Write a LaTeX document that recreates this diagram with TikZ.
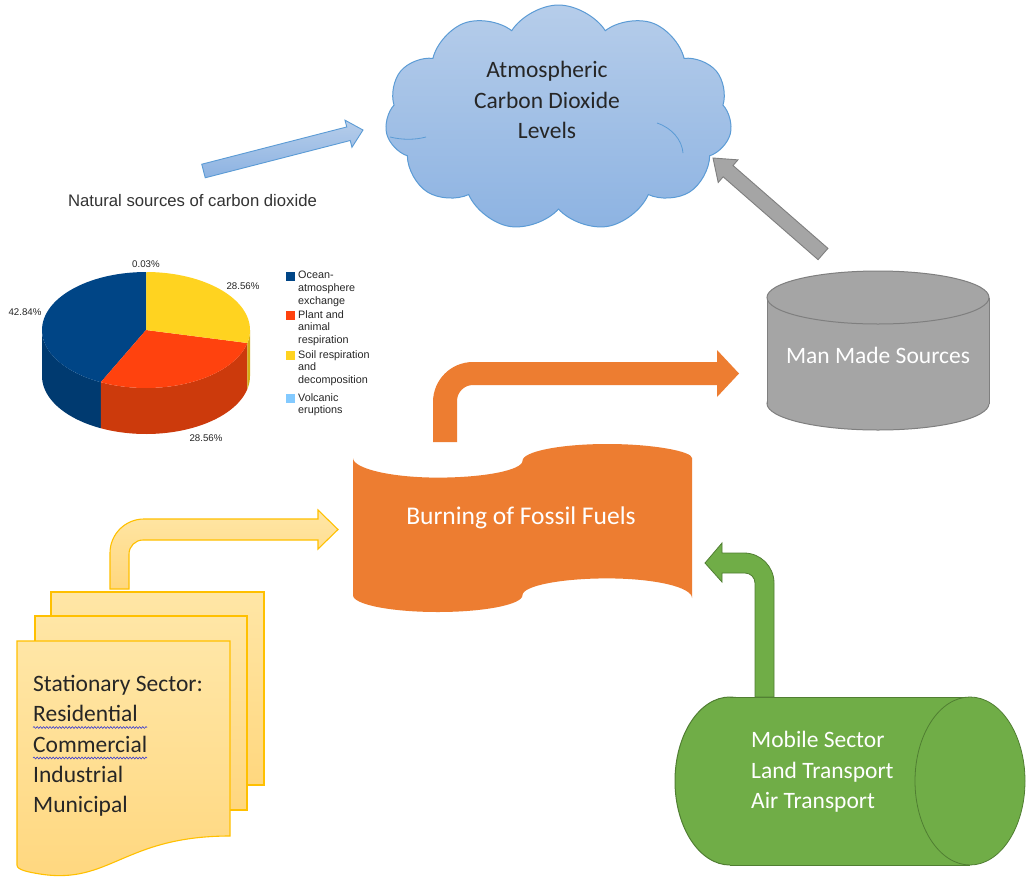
\documentclass[tikz,border=0pt]{standalone}
\usepackage{fontspec}
\setmainfont{Carlito}
\newfontfamily\arialf{Liberation Sans}
\usetikzlibrary{shapes.symbols,calc,decorations.pathmorphing}
\definecolor{cloudtop}{HTML}{B6CDEA}
\definecolor{cloudbot}{HTML}{8DB3E2}
\definecolor{cloudline}{HTML}{5B9BD5}
\definecolor{txtdark}{HTML}{262626}
\definecolor{orangef}{HTML}{ED7D31}
\definecolor{grayf}{HTML}{A5A5A5}
\definecolor{grayl}{HTML}{7F7F7F}
\definecolor{greenf}{HTML}{70AD47}
\definecolor{greenl}{HTML}{507E32}
\definecolor{docline}{HTML}{FFC000}
\definecolor{doctop}{HTML}{FFE6A6}
\definecolor{docbot}{HTML}{FFD77E}
\definecolor{pieblue}{HTML}{004586}
\definecolor{piebluesd}{HTML}{003A70}
\definecolor{piered}{HTML}{FF420E}
\definecolor{pieredsd}{HTML}{CC3A0C}
\definecolor{pieyel}{HTML}{FFD320}
\definecolor{pieyelsd}{HTML}{D4AE14}
\definecolor{pievol}{HTML}{83CAFF}
\definecolor{spell}{HTML}{3A3AD0}
\newcommand\blockarrow[6]{%
  \coordinate (hb) at ($(#3)!#6!(#2)$);
  \draw[#1] ($(#2)!#4!90:(#3)$) -- ($(hb)!#4!90:(#3)$) -- ($(hb)!#5!90:(#3)$) -- (#3) -- ($(hb)!#5!-90:(#3)$) -- ($(hb)!#4!-90:(#3)$) -- ($(#2)!#4!-90:(#3)$) -- cycle;}
\begin{document}
\begin{tikzpicture}[x=1pt,y=-1pt,
  office/.style={font=\fontsize{23.5}{30.3}\selectfont, inner sep=0pt},
  legend/.style={font=\arialf\fontsize{10.8}{12.8}\selectfont, inner sep=0pt, align=left, text=black!85, anchor=north west},
  pct/.style={font=\arialf\fontsize{9.7}{11}\selectfont, inner sep=0pt, text=black!85},
  docpage/.style={draw=docline, line width=1.1pt, top color=doctop, bottom color=docbot},
  spellline/.style={draw=spell, line width=0.6pt, decorate, decoration={snake, amplitude=0.9pt, segment length=3.2pt}}
]
\useasboundingbox (0,0) rectangle (1026,879);
\fill[white] (0,0) rectangle (1026,879);

% ---- cloud ----
\node[cloud, cloud puffs=11, cloud puff arc=115, cloud ignores aspect,
      minimum width=347pt, minimum height=226pt, inner sep=0pt,
      draw=cloudline, line width=1pt, top color=cloudtop, bottom color=cloudbot] (cloud) at (558.5,118) {};
\draw[cloudline, line width=0.8pt] (390,137) .. controls (402,140) and (415,140) .. (426,137);
\draw[cloudline, line width=0.8pt] (657,123) .. controls (672,128) and (682,140) .. (683,153);
\node[office, text=txtdark, align=center] (atmo) at (547,100) {Atmospheric\\Carbon Dioxide\\Levels};

% ---- natural sources title and blue arrow ----
\node[font=\arialf\fontsize{16.7}{19}\selectfont, inner sep=0pt, text=black!80] (nat) at (192.5,201) {Natural sources of carbon dioxide};
\coordinate (ba1) at (203.5,171);
\coordinate (ba2) at (363,130);
\blockarrow{draw=cloudline, line width=0.9pt, top color=cloudtop, bottom color=cloudbot}{ba1}{ba2}{7pt}{14pt}{15pt}

% ---- pie chart ----
\begin{scope}[shift={(146,330)}]
  \fill[piebluesd] plot[domain=180:244.22, samples=30] ({104*cos(\x)},{-58*sin(\x)}) -- plot[domain=244.22:180, samples=30] ({104*cos(\x)},{46-58*sin(\x)}) -- cycle;
  \fill[pieredsd] plot[domain=244.22:347.04, samples=40] ({104*cos(\x)},{-58*sin(\x)}) -- plot[domain=347.04:244.22, samples=40] ({104*cos(\x)},{46-58*sin(\x)}) -- cycle;
  \fill[pieyelsd] plot[domain=347.04:360, samples=10] ({104*cos(\x)},{-58*sin(\x)}) -- plot[domain=360:347.04, samples=10] ({104*cos(\x)},{46-58*sin(\x)}) -- cycle;
  \fill[pieblue] (0,0) -- plot[domain=90:244.22, samples=50] ({104*cos(\x)},{-58*sin(\x)}) -- cycle;
  \fill[piered] (0,0) -- plot[domain=244.22:347.04, samples=40] ({104*cos(\x)},{-58*sin(\x)}) -- cycle;
  \fill[pieyel] (0,0) -- plot[domain=-12.96:89.86, samples=40] ({104*cos(\x)},{-58*sin(\x)}) -- cycle;
  \fill[pievol] (0,0) -- plot[domain=89.86:90, samples=2] ({104*cos(\x)},{-58*sin(\x)}) -- cycle;
\end{scope}
\node[pct] (p1) at (146,264) {0.03\%};
\node[pct] (p2) at (243,286) {28.56\%};
\node[pct] (p3) at (25,312) {42.84\%};
\node[pct] (p4) at (206,438) {28.56\%};
% legend
\fill[pieblue] (286,271.5) rectangle (295,280.5);
\fill[piered] (286,310.5) rectangle (295,319.5);
\fill[pieyel] (286,350.5) rectangle (295,359.5);
\fill[pievol] (286,393.5) rectangle (295,402.5);
\node[legend] (l1) at (298,271) {Ocean-\\atmosphere\\exchange};
\node[legend] (l2) at (298,310) {Plant and\\animal\\respiration};
\node[legend] (l3) at (298,350) {Soil respiration\\and\\decomposition};
\node[legend] (l4) at (298,393) {Volcanic\\eruptions};

% ---- Man made sources cylinder ----
\draw[fill=grayf, draw=grayl, line width=1pt] (878,403.5) ellipse [x radius=111, y radius=26.5];
\fill[grayf] (767,297.5) rectangle (989,403.5);
\draw[grayl, line width=1pt] (767,297.5) -- (767,403.5) (989,297.5) -- (989,403.5);
\draw[fill=grayf, draw=grayl, line width=1pt] (878,297.5) ellipse [x radius=111, y radius=26.5];
\node[office, text=white] (man) at (878,355) {Man Made Sources};

% gray arrow
\coordinate (ga1) at (823,254);
\coordinate (ga2) at (713,158);
\blockarrow{fill=grayf, draw=grayl, line width=0.9pt}{ga1}{ga2}{7.5pt}{15pt}{20pt}

% ---- orange bent arrow ----
\fill[orangef] (433,442) -- (433,402) .. controls (433,379.9) and (450.9,362) .. (473,362)
  -- (717,362) -- (717,350) -- (739,373.5) -- (717,397) -- (717,385) -- (473,385)
  .. controls (464.2,385) and (457,392.2) .. (457,401) -- (457,442) -- cycle;

% ---- burning of fossil fuels ----
\fill[orangef] (353,458)
  .. controls (353,468.5) and (390.95,477.6) .. (437.75,477.6)
  .. controls (484.55,477.6) and (522.5,470.08) .. (522.5,460.8)
  .. controls (522.5,451.52) and (560.45,444) .. (607.25,444)
  .. controls (654.05,444) and (692,451.52) .. (692,458)
  -- (692,598)
  .. controls (692,587) and (654.05,578.4) .. (607.25,578.4)
  .. controls (560.45,578.4) and (522.5,585.92) .. (522.5,595.2)
  .. controls (522.5,604.48) and (484.55,612) .. (437.75,612)
  .. controls (390.95,612) and (353,604.48) .. (353,595.2) -- cycle;
\node[office, text=white, font=\fontsize{25.5}{30.3}\selectfont] (burn) at (521,518) {Burning of Fossil Fuels};

% ---- yellow bent arrow ----
\draw[docpage] (110,589) -- (110,553) .. controls (110,534.2) and (125.2,519) .. (144,519)
  -- (318,519) -- (318,510) -- (338,529.5) -- (318,549) -- (318,540) -- (143,540)
  .. controls (135.3,540) and (129,546.3) .. (129,554) -- (129,589) -- cycle;

% ---- stationary documents ----
\draw[docpage] (51,592) rectangle (264,785);
\draw[docpage] (35,616) rectangle (247,810);
\draw[docpage] (17,641) -- (230,641) -- (230,836)
  .. controls (123.5,836) and (110,885) .. (40,874) .. controls (28,872) and (17,870) .. (17,865) -- cycle;
\node[office, text=txtdark, align=left, anchor=west] (stat) at (33,746) {Stationary Sector:\\Residential\\Commercial\\Industrial\\Municipal};
\draw[spellline] (33,727.5) -- (147,727.5);
\draw[spellline] (33,758) -- (147,758);

% ---- mobile sector cylinder ----
\draw[fill=greenf, draw=greenl, line width=1pt] (730,781) ellipse [x radius=55, y radius=84];
\fill[greenf] (730,697) rectangle (970,865);
\draw[greenl, line width=1pt] (730,697) -- (970,697) (730,865) -- (970,865);
\draw[fill=greenf, draw=greenl, line width=0.8pt] (970,781) ellipse [x radius=55, y radius=84];
\node[office, text=white, align=left, anchor=west] (mob) at (751,772) {Mobile Sector\\Land Transport\\Air Transport};

% ---- green bent arrow ----
\draw[fill=greenf, draw=greenl, line width=0.8pt] (774,697) -- (774,583) .. controls (774,566.4) and (760.6,553) .. (744,553)
  -- (722,553) -- (722,543) -- (705,563) -- (722,582) -- (722,573) -- (745,573)
  .. controls (750.5,573) and (755,577.5) .. (755,583) -- (755,697) -- cycle;
\end{tikzpicture}
\end{document}
